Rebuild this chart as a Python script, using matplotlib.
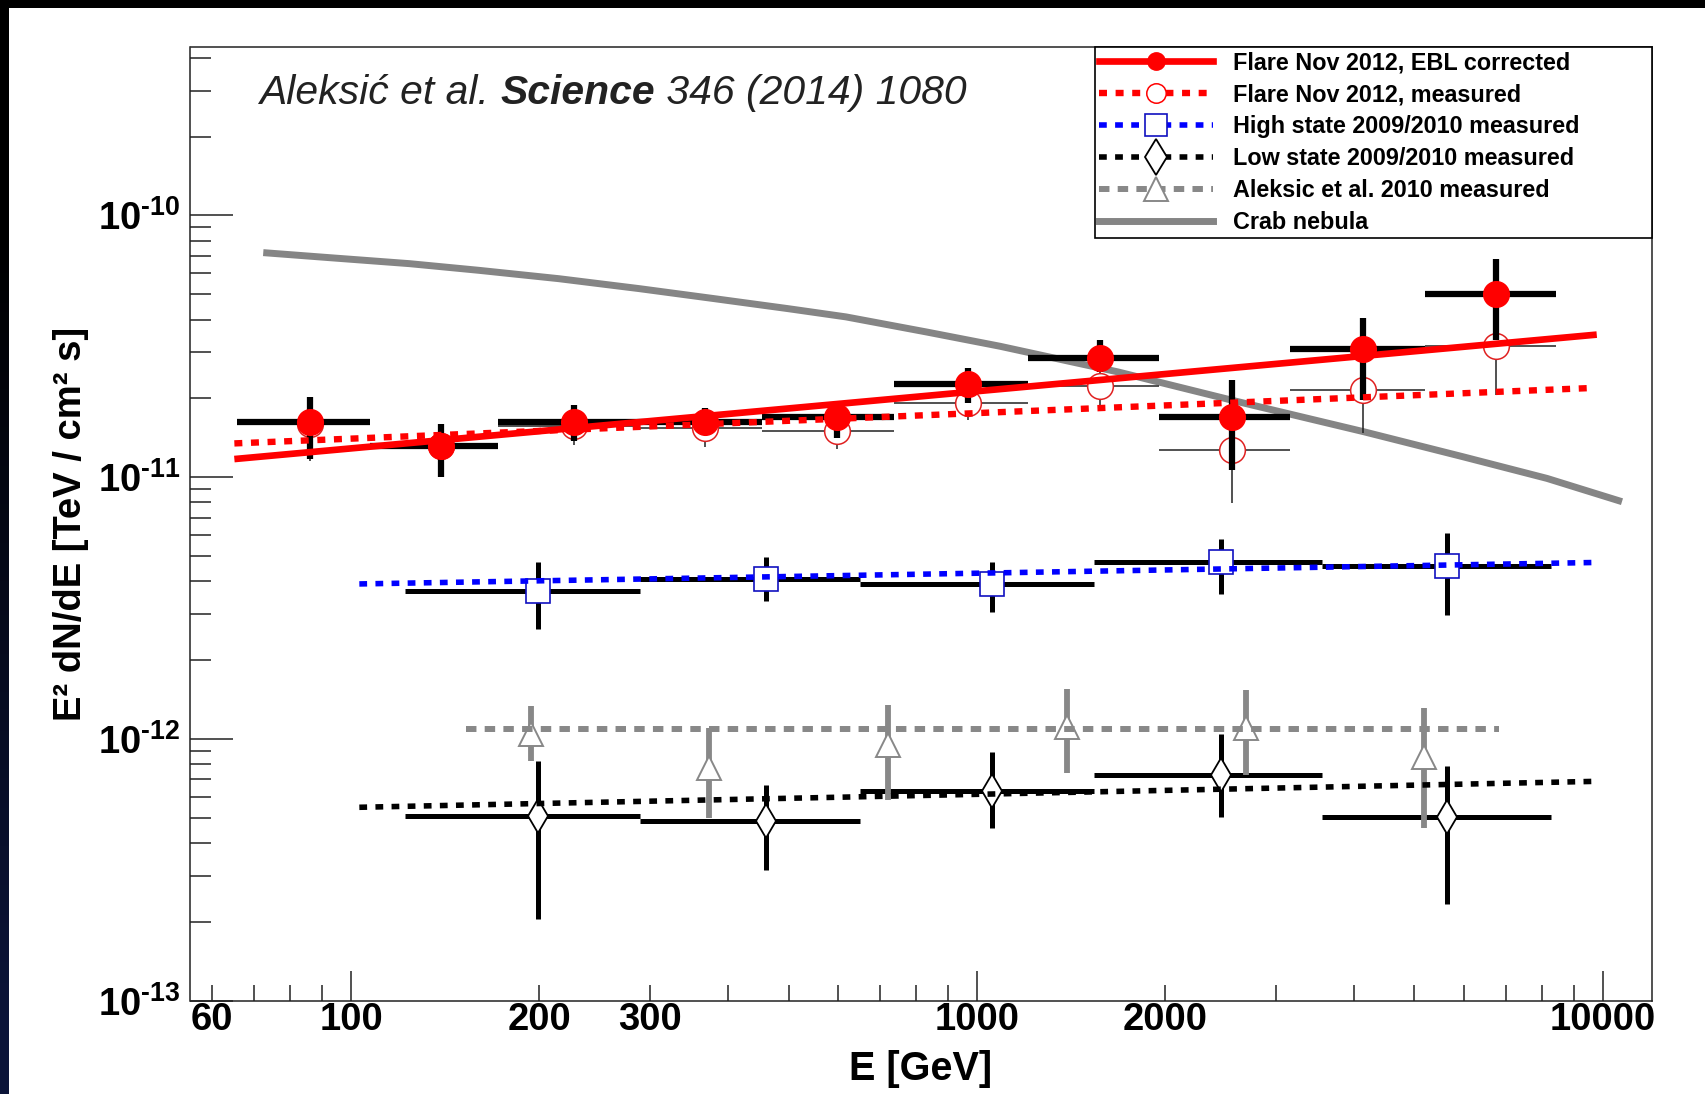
import numpy as np
import matplotlib
matplotlib.use("Agg")
import matplotlib.pyplot as plt
from matplotlib.lines import Line2D
from matplotlib.patches import Rectangle
from matplotlib.ticker import FixedLocator, FuncFormatter, NullFormatter

plt.rcParams['font.family'] = ['Liberation Sans', 'DejaVu Sans']
plt.rcParams['font.weight'] = 'bold'
plt.rcParams['mathtext.fontset'] = 'custom'
plt.rcParams['mathtext.rm'] = 'Liberation Sans'
plt.rcParams['mathtext.bf'] = 'Liberation Sans:bold'
plt.rcParams['mathtext.it'] = 'Liberation Sans:italic'

# ---------------- data ----------------
# Flare Nov 2012, 10 energy bins
flare_e = np.array([86.0, 139.1, 226.7, 367.9, 597.3, 969.2, 1573, 2554, 4145, 6754])
flare_edges = np.array([65.8, 107.2, 172.0, 282.5, 453.2, 738.4, 1208, 1953, 3158, 5208, 8417])
ebl_f = np.array([1.619e-11, 1.312e-11, 1.619e-11, 1.62e-11, 1.698e-11, 2.263e-11, 2.846e-11, 1.70e-11, 3.073e-11, 5.005e-11])
ebl_up = np.array([2.017e-11, 1.589e-11, 1.887e-11, 1.834e-11, 1.960e-11, 2.611e-11, 3.349e-11, 2.35e-11, 4.04e-11, 6.80e-11])
ebl_lo = np.array([1.170e-11, 1.004e-11, 1.376e-11, 1.443e-11, 1.416e-11, 1.924e-11, 2.52e-11, 1.064e-11, 1.97e-11, 3.33e-11])
meas_f = np.array([1.60e-11, 1.31e-11, 1.57e-11, 1.544e-11, 1.50e-11, 1.924e-11, 2.22e-11, 1.274e-11, 2.157e-11, 3.162e-11])
meas_up = np.array([1.98e-11, 1.58e-11, 1.83e-11, 1.75e-11, 1.73e-11, 2.2e-11, 2.52e-11, 1.75e-11, 2.9e-11, 4.3e-11])
meas_lo = np.array([1.15e-11, 1.0e-11, 1.33e-11, 1.30e-11, 1.28e-11, 1.65e-11, 1.83e-11, 7.94e-12, 1.47e-11, 2.06e-11])

# 2009/2010 high and low states, 5 bins
state_e = np.array([198.6, 460.5, 1058, 2453, 5641])
state_edges = np.array([121.9, 289.3, 649.4, 1536, 3560, 8252])
high_f = np.array([3.677e-12, 4.087e-12, 3.896e-12, 4.717e-12, 4.583e-12])
high_up = np.array([4.717e-12, 4.948e-12, 4.72e-12, 5.82e-12, 6.106e-12])
high_lo = np.array([2.632e-12, 3.374e-12, 3.039e-12, 3.573e-12, 2.98e-12])
low_f = np.array([5.08e-13, 4.843e-13, 6.33e-13, 7.25e-13, 5.04e-13])
low_up = np.array([8.196e-13, 6.68e-13, 8.9e-13, 1.041e-12, 7.87e-13])
low_lo = np.array([2.048e-13, 3.165e-13, 4.55e-13, 5.03e-13, 2.33e-13])

# Aleksic et al. 2010
a10_e = np.array([193.9, 373.1, 720.9, 1393, 2687, 5187])
a10_f = np.array([1.045e-12, 7.74e-13, 9.46e-13, 1.107e-12, 1.10e-12, 8.55e-13])
a10_up = np.array([1.337e-12, 1.098e-12, 1.348e-12, 1.548e-12, 1.54e-12, 1.31e-12])
a10_lo = np.array([8.196e-13, 4.98e-13, 5.86e-13, 7.40e-13, 7.28e-13, 4.55e-13])

# fitted power laws (end points)
fit_ebl_e, fit_ebl_f = [65.1, 9779], [1.172e-11, 3.503e-11]
fit_meas_e, fit_meas_f = [65.1, 9594], [1.345e-11, 2.19e-11]
fit_high_e, fit_high_f = [103.1, 9683], [3.906e-12, 4.717e-12]
fit_low_e, fit_low_f = [103.1, 9683], [5.474e-13, 6.875e-13]
fit_a10_e, fit_a10_f = [152.5, 6835], [1.089e-12, 1.089e-12]

# Crab nebula reference spectrum
crab_e = [72.4, 92.3, 124.0, 159.8, 214.8, 288.7, 379.8, 499.9, 617.7, 829.8,
          1088.6, 1680, 2591, 4153, 5978, 8144, 10730]
crab_f = [7.206e-11, 6.895e-11, 6.54e-11, 6.17e-11, 5.73e-11, 5.25e-11, 4.81e-11, 4.40e-11,
          4.094e-11, 3.587e-11, 3.162e-11, 2.523e-11, 1.951e-11, 1.490e-11, 1.196e-11,
          9.885e-12, 8.055e-12]

x_major = [100, 1000, 10000]
x_minor = [60, 70, 80, 90, 200, 300, 400, 500, 600, 700, 800, 900,
           2000, 3000, 4000, 5000, 6000, 7000, 8000, 9000]
x_minor_labels = [60, 200, 300, 2000]
y_major = [1e-13, 1e-12, 1e-11, 1e-10]
y_minor = [m * d for d in [1e-13, 1e-12, 1e-11, 1e-10] for m in range(2, 10) if m * d < 4.4e-10]

labels = ["Flare Nov 2012, EBL corrected", "Flare Nov 2012, measured",
          "High state 2009/2010 measured", "Low state 2009/2010 measured",
          "Aleksic et al. 2010 measured", "Crab nebula"]

# ---------------- figure ----------------
W, H = 1706, 1094
fig = plt.figure(figsize=(W / 100, H / 100), dpi=100, facecolor='white')


def fx(px):
    return px / W


def fy(py):
    return 1 - py / H


# slide background stripes
stripe = fig.add_axes([0, 0, fx(9), 1])
ramp = np.clip(np.linspace(0, 1, 256) * 1.4 - 0.3, 0, 1)
cols = np.zeros((256, 1, 3))
cols[:, 0, 0] = 0.045 * ramp
cols[:, 0, 1] = 0.08 * ramp
cols[:, 0, 2] = 0.22 * ramp
stripe.imshow(cols, aspect='auto', extent=[0, 1, 0, 1], origin='upper')
stripe.axis('off')
fig.patches.append(Rectangle((0, fy(8)), 1, 8 / H, transform=fig.transFigure,
                             facecolor='black', edgecolor='none'))

ax = fig.add_axes([fx(190.5), fy(1000.5), fx(1651.7) - fx(190.5), fy(47) - fy(1000.5)])
ax.set_xscale('log')
ax.set_yscale('log')
ax.set_xlim(55.4, 11970)
ax.set_ylim(1e-13, 4.4e-10)


def ax_x(px):
    return (px - 190.5) / (1651.7 - 190.5)


def ax_y(py):
    return (1000.5 - py) / (1000.5 - 47)


def xerr(e, edges):
    return [e - edges[:-1], edges[1:] - e]


# crab
ax.plot(crab_e, crab_f, color='#858585', lw=5, solid_capstyle='butt', zorder=2)

# flare measured
ax.errorbar(flare_e, meas_f, xerr=xerr(flare_e, flare_edges),
            yerr=[meas_f - meas_lo, meas_up - meas_f],
            fmt='none', ecolor='#222222', elinewidth=1.1, zorder=3)
ax.plot(flare_e, meas_f, ls='none', marker='o', ms=18.5, mfc='white', mec='#e02020',
        mew=1.1, zorder=3.2)

# flare EBL corrected
ax.errorbar(flare_e, ebl_f, xerr=xerr(flare_e, flare_edges),
            yerr=[ebl_f - ebl_lo, ebl_up - ebl_f],
            fmt='none', ecolor='black', elinewidth=4.5, zorder=3.5)
ax.plot(flare_e, ebl_f, ls='none', marker='o', ms=18.5, color='red', zorder=4)

# high state
ax.errorbar(state_e, high_f, xerr=xerr(state_e, state_edges),
            yerr=[high_f - high_lo, high_up - high_f],
            fmt='none', ecolor='black', elinewidth=3.6, zorder=3)
ax.plot(state_e, high_f, ls='none', marker='s', ms=17, mfc='white', mec='#1010c0',
        mew=1.2, zorder=4)

# low state
ax.errorbar(state_e, low_f, xerr=xerr(state_e, state_edges),
            yerr=[low_f - low_lo, low_up - low_f],
            fmt='none', ecolor='black', elinewidth=3.6, zorder=3)
ax.plot(state_e, low_f, ls='none', marker='d', ms=17.5, mfc='white', mec='black',
        mew=1.3, zorder=4)

# Aleksic 2010
ax.errorbar(a10_e, a10_f, yerr=[a10_f - a10_lo, a10_up - a10_f],
            fmt='none', ecolor='#888888', elinewidth=4.2, zorder=3)
ax.plot(a10_e, a10_f, ls='none', marker='^', ms=17, mfc='white', mec='#888888',
        mew=1.4, zorder=4)

# fits
dot = (0, (1.25, 1.35))
ax.plot(fit_ebl_e, fit_ebl_f, color='red', lw=4.8, solid_capstyle='butt', zorder=5)
ax.plot(fit_meas_e, fit_meas_f, color='red', lw=4.6, ls=dot, dash_capstyle='butt', zorder=5)
ax.plot(fit_high_e, fit_high_f, color='#0000ff', lw=4.0, ls=(0, (1.4, 1.5)),
        dash_capstyle='butt', zorder=5)
ax.plot(fit_low_e, fit_low_f, color='black', lw=4.0, ls=(0, (1.4, 1.5)),
        dash_capstyle='butt', zorder=5)
ax.plot(fit_a10_e, fit_a10_f, color='#888888', lw=4.3, ls=(0, (1.75, 1.38)),
        dash_capstyle='butt', zorder=5)

# axes styling
for sp in ax.spines.values():
    sp.set_linewidth(1.1)
    sp.set_color('#222222')

ax.xaxis.set_major_locator(FixedLocator(x_major))
ax.xaxis.set_minor_locator(FixedLocator(x_minor))
ax.xaxis.set_major_formatter(FuncFormatter(lambda v, p: '%d' % round(v)))
ax.xaxis.set_minor_formatter(FuncFormatter(
    lambda v, p: '%d' % round(v) if round(v) in x_minor_labels else ''))
ax.yaxis.set_major_locator(FixedLocator(y_major))
ax.yaxis.set_minor_locator(FixedLocator(y_minor))
ax.yaxis.set_minor_formatter(NullFormatter())
ax.yaxis.set_major_formatter(FuncFormatter(
    lambda v, p: r'$\mathbf{10^{‐%d}}$' % abs(round(np.log10(v)))))

ax.tick_params(axis='both', which='both', direction='in', top=False, right=False,
               width=1.1, colors='#222222', labelcolor='black')
ax.tick_params(axis='x', which='major', length=21.6, pad=1, labelsize=27.5)
ax.tick_params(axis='x', which='minor', length=11.2, pad=1, labelsize=27.5)
ax.tick_params(axis='y', which='major', length=31, pad=7, labelsize=27.5)
ax.tick_params(axis='y', which='minor', length=15.4)

fig.text(fx(921), fy(1079.6), 'E [GeV]', ha='center', va='baseline', fontsize=28.5)
fig.text(fx(71), fy(523.8), 'E² dN/dE [TeV / cm² s]', rotation=90,
         ha='center', va='center', fontsize=27.5)

# legend
ax.add_patch(Rectangle((ax_x(1095), ax_y(238)), ax_x(1651.7) - ax_x(1095), ax_y(47) - ax_y(238),
                       transform=ax.transAxes, facecolor='white', edgecolor='black',
                       lw=1.2, clip_on=False, zorder=6))
handles = [
    Line2D([], [], color='red', lw=4.8, marker='o', ms=12.5, mfc='red', mec='red'),
    Line2D([], [], color='red', lw=4.6, ls=dot, marker='o', ms=14, mfc='white',
           mec='red', mew=1.1),
    Line2D([], [], color='#0000ff', lw=4.0, ls=(0, (1.4, 1.5)), marker='s', ms=16.5,
           mfc='white', mec='#1010c0', mew=1.2),
    Line2D([], [], color='black', lw=4.0, ls=(0, (1.4, 1.5)), marker='d', ms=18,
           mfc='white', mec='black', mew=1.3),
    Line2D([], [], color='#888888', lw=4.3, ls=(0, (1.75, 1.38)), marker='^', ms=17,
           mfc='white', mec='#888888', mew=1.4),
    Line2D([], [], color='#858585', lw=5),
]
leg = ax.legend(handles, labels, loc='upper left', bbox_to_anchor=(ax_x(1099), ax_y(51.5)),
                frameon=False, borderpad=0, borderaxespad=0, handlelength=4.9,
                handletextpad=0.86, labelspacing=0.38, numpoints=1,
                prop={'weight': 'bold', 'size': 16.8})
leg.set_zorder(7)

# reference note
renderer = fig.canvas.get_renderer()
xpos = fx(259)
for s, w in [('Aleksić et al. ', 'normal'), ('Science', 'bold'), (' 346 (2014) 1080', 'normal')]:
    t = fig.text(xpos, fy(104.5), s, fontsize=29.4, fontstyle='italic', fontweight=w,
                 color='#222222', ha='left', va='baseline')
    xpos += t.get_window_extent(renderer).width / W

fig.savefig('out.png', dpi=100, facecolor=fig.get_facecolor())
